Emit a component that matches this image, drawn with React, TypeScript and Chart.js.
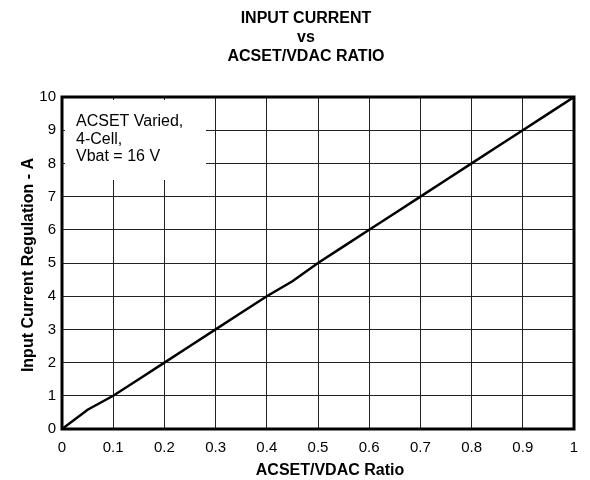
import React, { useEffect, useRef } from "react";
import { Chart, registerables } from "chart.js";

Chart.register(...registerables);

const ratio = [0, 0.05, 0.1, 0.15, 0.2, 0.25, 0.3, 0.35, 0.4, 0.45, 0.5, 0.55, 0.6, 0.65, 0.7, 0.75, 0.8, 0.85, 0.9, 0.95, 1.0];
const current = [0, 0.58, 1.0, 1.5, 2.0, 2.5, 3.0, 3.5, 4.0, 4.45, 5.0, 5.5, 6.0, 6.5, 7.0, 7.5, 8.0, 8.5, 9.0, 9.5, 10.0];
const titleLines = ["INPUT CURRENT", "vs", "ACSET/VDAC RATIO"];
const noteLines = ["ACSET Varied,", "4-Cell,", "Vbat = 16 V"];
const xTitle = "ACSET/VDAC Ratio";
const yTitle = "Input Current Regulation - A";

const FONT = "'Liberation Sans', Arial, sans-serif";

export default function App() {
  const ref = useRef<HTMLCanvasElement>(null);
  useEffect(() => {
    if (!ref.current) return;
    const deco = {
      id: "deco",
      beforeDatasetsDraw(chart: any) {
        const { ctx, chartArea: a } = chart;
        ctx.save();
        ctx.fillStyle = "#fff";
        ctx.fillRect(a.left + 3, a.top + 3, 141, 80);
        ctx.fillStyle = "#000";
        ctx.font = `16px ${FONT}`;
        ctx.textBaseline = "middle";
        ctx.textAlign = "left";
        noteLines.forEach((t, i) => ctx.fillText(t, a.left + 14, a.top + 25 + i * 17.5));
        ctx.restore();
      },
      afterDraw(chart: any) {
        const { ctx, chartArea: a } = chart;
        ctx.save();
        ctx.strokeStyle = "#000";
        ctx.lineWidth = 3;
        ctx.strokeRect(a.left, a.top, a.right - a.left, a.bottom - a.top);
        ctx.fillStyle = "#000";
        ctx.textAlign = "center";
        ctx.textBaseline = "middle";
        ctx.font = `bold 16px ${FONT}`;
        titleLines.forEach((t, i) => ctx.fillText(t, 306, 19 + i * 19));
        ctx.fillText(xTitle, 330, 471);
        ctx.translate(29, 265);
        ctx.rotate(-Math.PI / 2);
        ctx.fillText(yTitle, 0, 0);
        ctx.restore();
      },
    };
    const chart = new Chart(ref.current, {
      type: "line",
      data: {
        datasets: [
          {
            data: ratio.map((x, i) => ({ x, y: current[i] })),
            borderColor: "#000",
            borderWidth: 2.5,
            pointRadius: 0,
            fill: false,
            tension: 0,
          },
        ],
      },
      options: {
        responsive: false,
        animation: false,
        layout: { padding: { left: 0, right: 16, top: 97, bottom: 0 } },
        plugins: { legend: { display: false }, tooltip: { enabled: false } },
        scales: {
          x: {
            type: "linear",
            min: 0,
            max: 1,
            afterFit(s: any) { s.height = 51; },
            ticks: {
              stepSize: 0.1,
              color: "#000",
              font: { family: FONT, size: 15 },
              padding: 10,
              maxRotation: 0,
              callback: (v: any) => String(Math.round(Number(v) * 10) / 10),
            },
            grid: { color: "#222", lineWidth: 1, tickLength: 0 },
            border: { display: false },
          },
          y: {
            min: 0,
            max: 10,
            afterFit(s: any) { s.width = 62; },
            ticks: {
              stepSize: 1,
              color: "#000",
              font: { family: FONT, size: 15 },
              padding: 6,
            },
            grid: { color: "#222", lineWidth: 1, tickLength: 0 },
            border: { display: false },
          },
        },
      },
      plugins: [deco],
    });
    return () => chart.destroy();
  }, []);
  return (
    <div style={{ position: "fixed", left: 0, top: 0, width: 590, height: 480, background: "#fff" }}>
      <canvas ref={ref} width={590} height={480} />
    </div>
  );
}
